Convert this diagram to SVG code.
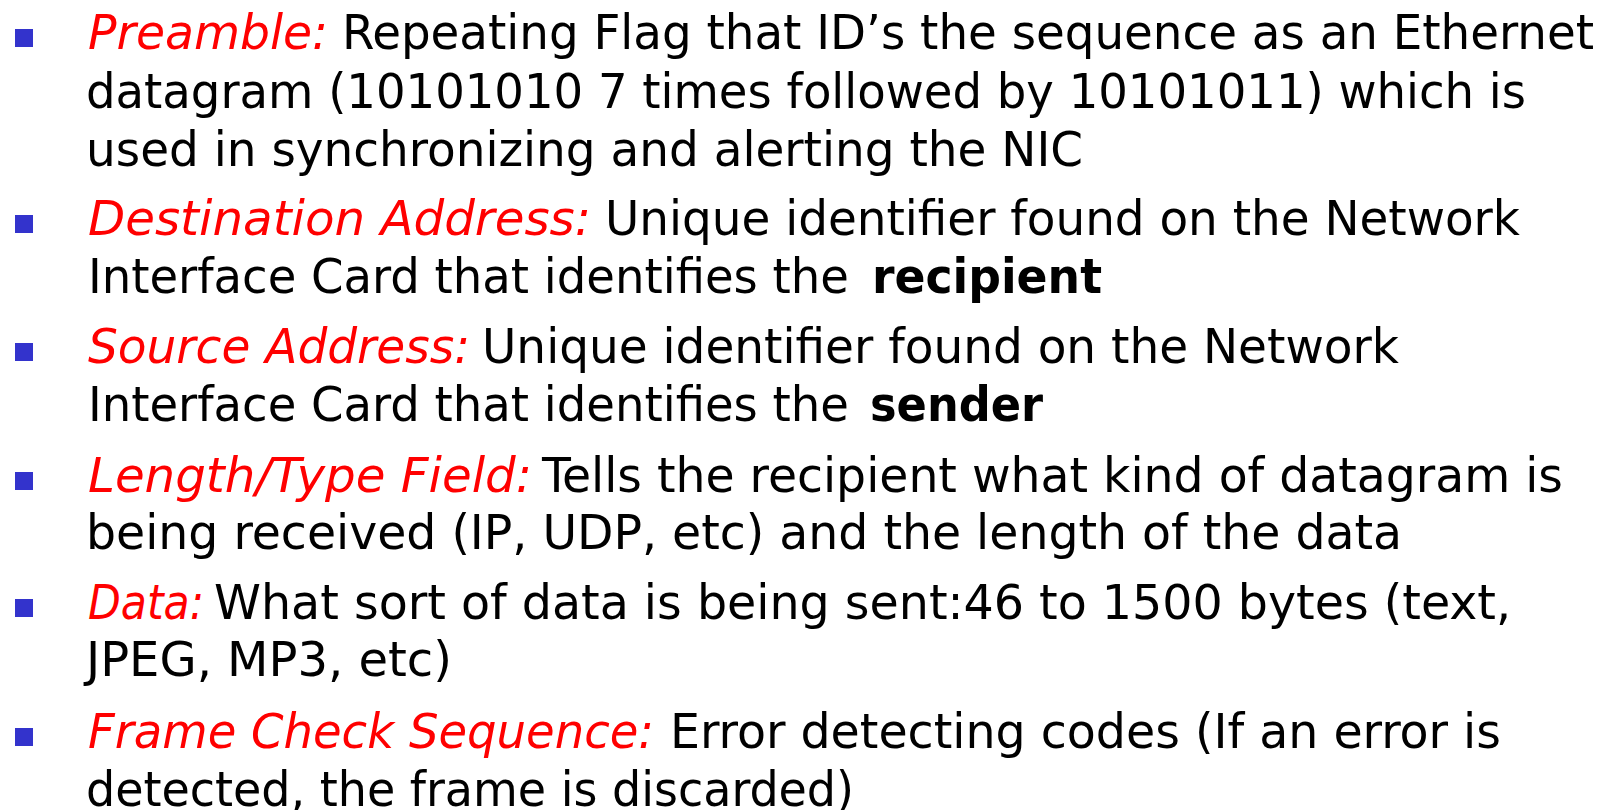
<svg xmlns="http://www.w3.org/2000/svg" width="1620" height="810" viewBox="0 0 1620 810">
  <style>
    text { font-family: "DejaVu Sans", sans-serif; font-stretch: condensed; font-size: 48px; fill: #000; }
    .term { fill: #FF0000; font-style: italic; }
    .strong { font-weight: bold; }
    .bullet { fill: #3333CC; }
  </style>
  <rect width="1620" height="810" fill="#FFFFFF"/>

  <!-- Preamble -->
  <g id="preamble">
    <rect class="bullet" x="15" y="29" width="18" height="18"/>
    <text class="term" x="88" y="49" textLength="240" lengthAdjust="spacingAndGlyphs">Preamble:</text>
    <text x="342" y="49" textLength="1252" lengthAdjust="spacingAndGlyphs">Repeating Flag that ID’s the sequence as an Ethernet</text>
    <text x="86" y="108" textLength="1440" lengthAdjust="spacingAndGlyphs">datagram (10101010 7 times followed by 10101011) which is</text>
    <text x="86" y="166" textLength="997" lengthAdjust="spacingAndGlyphs">used in synchronizing and alerting the NIC</text>
  </g>

  <!-- Destination Address -->
  <g id="destination">
    <rect class="bullet" x="15" y="215" width="18" height="18"/>
    <text class="term" x="88" y="235" textLength="503" lengthAdjust="spacingAndGlyphs">Destination Address:</text>
    <text x="605" y="235" textLength="915" lengthAdjust="spacingAndGlyphs">Unique identifier found on the Network</text>
    <text x="88" y="293" textLength="761" lengthAdjust="spacingAndGlyphs">Interface Card that identifies the</text>
    <text class="strong" x="872" y="293" textLength="230" lengthAdjust="spacingAndGlyphs">recipient</text>
  </g>

  <!-- Source Address -->
  <g id="source">
    <rect class="bullet" x="15" y="343" width="18" height="18"/>
    <text class="term" x="88" y="363" textLength="382" lengthAdjust="spacingAndGlyphs">Source Address:</text>
    <text x="482" y="363" textLength="917" lengthAdjust="spacingAndGlyphs">Unique identifier found on the Network</text>
    <text x="88" y="421" textLength="761" lengthAdjust="spacingAndGlyphs">Interface Card that identifies the</text>
    <text class="strong" x="870" y="421" textLength="173" lengthAdjust="spacingAndGlyphs">sender</text>
  </g>

  <!-- Length/Type Field -->
  <g id="length-type">
    <rect class="bullet" x="15" y="472" width="18" height="18"/>
    <text class="term" x="88" y="492" textLength="444" lengthAdjust="spacingAndGlyphs">Length/Type Field:</text>
    <text x="542" y="492" textLength="1021" lengthAdjust="spacingAndGlyphs">Tells the recipient what kind of datagram is</text>
    <text x="86" y="549" textLength="1316" lengthAdjust="spacingAndGlyphs">being received (IP, UDP, etc) and the length of the data</text>
  </g>

  <!-- Data -->
  <g id="data">
    <rect class="bullet" x="15" y="599" width="18" height="18"/>
    <text class="term" x="88" y="619" textLength="116" lengthAdjust="spacingAndGlyphs">Data:</text>
    <text x="214" y="619" textLength="1297" lengthAdjust="spacingAndGlyphs">What sort of data is being sent:46 to 1500 bytes (text,</text>
    <text x="86" y="676" textLength="366" lengthAdjust="spacingAndGlyphs">JPEG, MP3, etc)</text>
  </g>

  <!-- Frame Check Sequence -->
  <g id="fcs">
    <rect class="bullet" x="15" y="728" width="18" height="18"/>
    <text class="term" x="88" y="748" textLength="566" lengthAdjust="spacingAndGlyphs">Frame Check Sequence:</text>
    <text x="670" y="748" textLength="831" lengthAdjust="spacingAndGlyphs">Error detecting codes (If an error is</text>
    <text x="86" y="806" textLength="768" lengthAdjust="spacingAndGlyphs">detected, the frame is discarded)</text>
  </g>

  <!-- no connectors in this slide -->
  <g id="connectors"/>
</svg>
